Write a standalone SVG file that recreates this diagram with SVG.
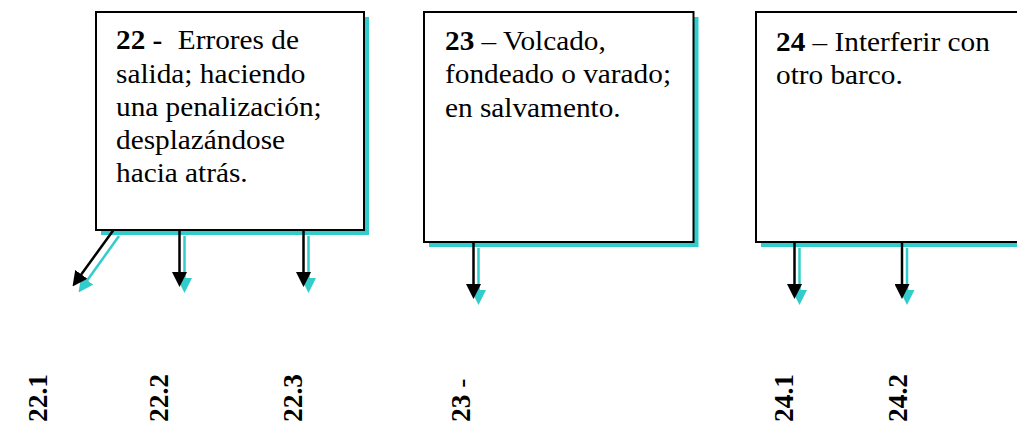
<svg xmlns="http://www.w3.org/2000/svg" width="1017" height="427" viewBox="0 0 1017 427">
<style>
  .box { fill: #ffffff; stroke: #000000; stroke-width: 2; }
  .shadow { fill: #33CCCC; stroke: none; }
  .txt { font-size: 27px; fill: #000; }
  .b { font-weight: bold; }
  .lbl { font-size: 27.5px; font-weight: bold; fill: #000; }
  .ln { stroke: #000; stroke-width: 2.5; fill: none; marker-end: url(#ah); }
  .lns { stroke: #33CCCC; stroke-width: 2.5; fill: none; marker-end: url(#ahs); }
</style>
<defs>
  <marker id="ah" viewBox="0 0 15 15" refX="7" refY="7.5" markerWidth="15" markerHeight="15" markerUnits="userSpaceOnUse" orient="auto">
    <path d="M0,0 L15,7.5 L0,15 Z" fill="#000"/>
  </marker>
  <marker id="ahs" viewBox="0 0 15 15" refX="7" refY="7.5" markerWidth="15" markerHeight="15" markerUnits="userSpaceOnUse" orient="auto">
    <path d="M0,0 L15,7.5 L0,15 Z" fill="#33CCCC"/>
  </marker>
</defs>
<rect width="1017" height="427" fill="#ffffff"/>

<g id="connectors-shadow">
  <line class="lns" x1="119" y1="236" x2="83.2" y2="286"/>
  <line class="lns" x1="184.5" y1="236" x2="184.5" y2="285"/>
  <line class="lns" x1="308.5" y1="236" x2="308.5" y2="285"/>
  <line class="lns" x1="478.5" y1="248" x2="478.5" y2="297"/>
  <line class="lns" x1="799.5" y1="248" x2="799.5" y2="297"/>
  <line class="lns" x1="907" y1="248" x2="907" y2="297"/>
</g>

<g font-family="'Liberation Serif', 'DejaVu Serif', serif">
<g id="node-22">
  <rect class="shadow" x="101" y="17" width="268" height="218"/>
  <rect class="box" x="96" y="12" width="268" height="218"/>
  <g transform="translate(116,49.3) scale(1.085,1)">
    <text class="txt"><tspan class="b" x="0" y="0">22 -</tspan><tspan x="57" y="0">Errores de</tspan><tspan x="0" y="33.3">salida; haciendo</tspan><tspan x="0" y="66.6">una penalización;</tspan><tspan x="0" y="99.9">desplazándose</tspan><tspan x="0" y="133.2">hacia atrás.</tspan></text>
  </g>
</g>

<g id="node-23">
  <rect class="shadow" x="429" y="17" width="269.5" height="230"/>
  <rect class="box" x="424" y="12" width="269.5" height="230"/>
  <g transform="translate(445,50) scale(1.085,1)">
    <text class="txt"><tspan x="0" y="0"><tspan class="b">23</tspan> – Volcado,</tspan><tspan x="0" y="33.3">fondeado o varado;</tspan><tspan x="0" y="66.6">en salvamento.</tspan></text>
  </g>
</g>

<g id="node-24">
  <rect class="shadow" x="761" y="17" width="300" height="230"/>
  <rect class="box" x="756" y="12" width="300" height="230"/>
  <g transform="translate(776,50.5) scale(1.085,1)">
    <text class="txt"><tspan x="0" y="0"><tspan class="b">24</tspan> – Interferir con</tspan><tspan x="0" y="33.3">otro barco.</tspan></text>
  </g>
</g>
</g>

<g id="connectors">
  <line class="ln" x1="113.5" y1="230" x2="77.2" y2="280"/>
  <line class="ln" x1="179.5" y1="230" x2="179.5" y2="279"/>
  <line class="ln" x1="303.5" y1="230" x2="303.5" y2="279"/>
  <line class="ln" x1="473.5" y1="242" x2="473.5" y2="291"/>
  <line class="ln" x1="794.5" y1="242" x2="794.5" y2="291"/>
  <line class="ln" x1="902" y1="242" x2="902" y2="291"/>
</g>

<g font-family="'Liberation Serif', 'DejaVu Serif', serif">
<g id="label-22-1"><text class="lbl" transform="translate(46.5,422) rotate(-90)">22.1</text></g>
<g id="label-22-2"><text class="lbl" transform="translate(168.3,422) rotate(-90)">22.2</text></g>
<g id="label-22-3"><text class="lbl" transform="translate(301.7,422) rotate(-90)">22.3</text></g>
<g id="label-23"><text class="lbl" transform="translate(470,422) rotate(-90)">23 <tspan font-weight="normal">-</tspan></text></g>
<g id="label-24-1"><text class="lbl" transform="translate(793.3,422) rotate(-90)">24.1</text></g>
<g id="label-24-2"><text class="lbl" transform="translate(906.7,422) rotate(-90)">24.2</text></g>
</g>
</svg>
